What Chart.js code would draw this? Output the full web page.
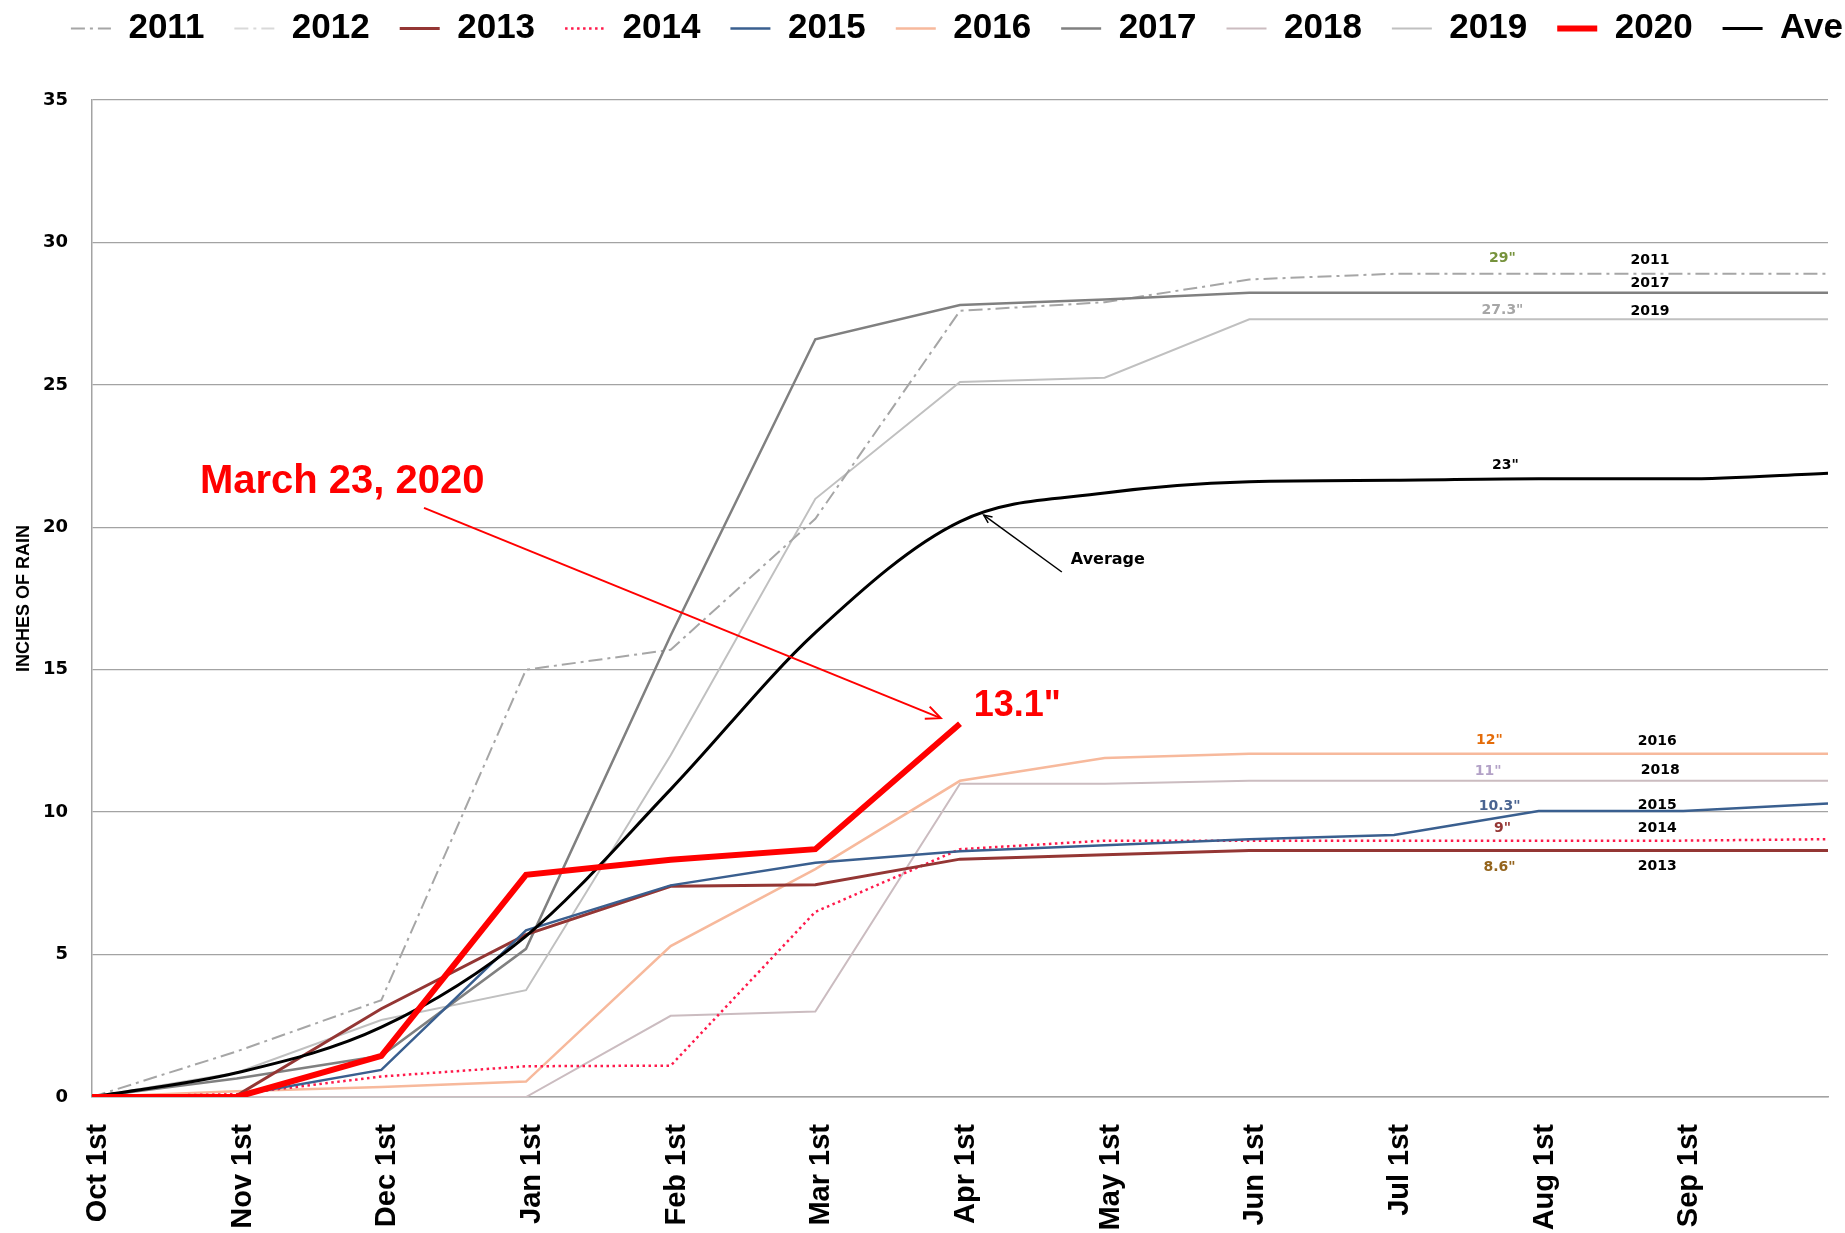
<!DOCTYPE html>
<html>
<head>
<meta charset="utf-8">
<script src="https://cdn.jsdelivr.net/npm/chart.js@4.4.1/dist/chart.umd.min.js"></script>
<style>
html,body{margin:0;padding:0;background:#ffffff;}
#wrap{width:1845px;height:1233px;position:relative;}
</style>
</head>
<body>
<div id="wrap"><canvas id="c"></canvas></div>
<script>
// ---- data ----
const months = ['Oct 1st','Nov 1st','Dec 1st','Jan 1st','Feb 1st','Mar 1st','Apr 1st','May 1st','Jun 1st','Jul 1st','Aug 1st','Sep 1st',''];
const yTicks = [0,5,10,15,20,25,30,35];
const y2011 = [0,1.6,3.4,15.0,15.7,20.3,27.6,27.9,28.7,28.9,28.9,28.9,28.9];
const y2012 = [null,null,null,null,null,null,null,null,null,null,null,null,null];
const y2013 = [0,0.05,3.1,5.7,7.4,7.45,8.35,8.5,8.65,8.65,8.65,8.65,8.65];
const y2014 = [0,0.1,0.72,1.08,1.1,6.5,8.7,9.0,9.0,9.0,9.0,9.0,9.05];
const y2015 = [0,0.05,0.95,5.85,7.43,8.22,8.63,8.84,9.05,9.2,10.04,10.04,10.3];
const y2016 = [0,0.2,0.35,0.54,5.3,8.0,11.1,11.9,12.05,12.05,12.05,12.05,12.05];
const y2017 = [0,0.65,1.45,5.2,16.2,26.6,27.8,28.0,28.23,28.23,28.23,28.23,28.23];
const y2018 = [0,0,0,0,2.85,3.0,11.0,11.0,11.1,11.1,11.1,11.1,11.1];
const y2019 = [0,0.85,2.7,3.75,12.0,21.0,25.1,25.25,27.3,27.3,27.3,27.3,27.3];
const y2020 = [0,0,1.44,7.8,8.33,8.7,13.1,null,null,null,null,null,null];
const yAve  = [0,0.85,2.45,5.65,10.8,16.3,20.2,21.2,21.6,21.65,21.7,21.7,21.9];
const seriesNames = ['2011','2012','2013','2014','2015','2016','2017','2018','2019','2020','Ave'];

// ---- annotations (positions in data coordinates) ----
const endValueLabels = ['29"','27.3"','23"','12"','11"','10.3"','9"','8.6"'];
const endValueX = [9.75,9.75,9.77,9.66,9.65,9.73,9.75,9.73];
const endValueY = [29.45,27.63,22.19,12.53,11.44,10.22,9.44,8.07];
const endValueColors = ['#76923c','#a6a6a6','#000000','#e46c0a','#b3a2c7','#4a6491','#953735','#94641c'];
const endYearLabels = ['2011','2017','2019','2016','2018','2015','2014','2013'];
const endYearX = [10.77,10.77,10.77,10.82,10.84,10.82,10.82,10.82];
const endYearY = [29.38,28.58,27.59,12.50,11.48,10.25,9.44,8.11];

// ---- styles ----
const styles = {
  '2011': {color:'#a6a6a6', width:2, dash:[14,5,3,5], order:5},
  '2012': {color:'#d9d9d9', width:2, dash:[14,5,3,5], order:5},
  '2013': {color:'#943634', width:3, dash:[], order:4},
  '2014': {color:'#ff1a4b', width:2.5, dash:[2.5,3.5], order:4},
  '2015': {color:'#3a5f8f', width:2.5, dash:[], order:3},
  '2016': {color:'#f7b99c', width:2.5, dash:[], order:5},
  '2017': {color:'#808080', width:2.5, dash:[], order:4},
  '2018': {color:'#cbbcc0', width:2, dash:[], order:5},
  '2019': {color:'#c0c0c0', width:2, dash:[], order:5},
  '2020': {color:'#ff0000', width:6, dash:[], order:0},
  'Ave':  {color:'#000000', width:3, dash:[], order:1}
};
const seriesData = [y2011,y2012,y2013,y2014,y2015,y2016,y2017,y2018,y2019,y2020,yAve];

const datasets = seriesNames.map((n,i)=>({
  label:n,
  data:seriesData[i],
  borderColor:styles[n].color,
  backgroundColor:styles[n].color,
  borderWidth:styles[n].width,
  borderDash:styles[n].dash,
  order:styles[n].order,
  pointRadius:0,
  pointHoverRadius:0,
  fill:false,
  spanGaps:false,
  cubicInterpolationMode: n==='Ave' ? 'monotone' : 'default',
  tension: n==='Ave' ? 0.4 : 0
}));

function drawArrow(ctx,x1,y1,x2,y2,color,w,head){
  ctx.save();
  ctx.strokeStyle=color; ctx.lineWidth=w; ctx.setLineDash([]);
  ctx.beginPath(); ctx.moveTo(x1,y1); ctx.lineTo(x2,y2); ctx.stroke();
  const a=Math.atan2(y2-y1,x2-x1);
  ctx.beginPath();
  ctx.moveTo(x2-head*Math.cos(a-0.42), y2-head*Math.sin(a-0.42));
  ctx.lineTo(x2,y2);
  ctx.lineTo(x2-head*Math.cos(a+0.42), y2-head*Math.sin(a+0.42));
  ctx.stroke();
  ctx.restore();
}

const annotPlugin = {
  id:'annot',
  afterDatasetsDraw(chart){
    const ctx=chart.ctx, xs=chart.scales.x, ys=chart.scales.y;
    const px=v=>xs.getPixelForValue(v), py=v=>ys.getPixelForValue(v);
    ctx.save();
    drawArrow(ctx,px(2.295),py(20.68),px(5.867),py(13.30),'#ff0000',2,16);
    drawArrow(ctx,px(6.704),py(18.43),px(6.164),py(20.43),'#000000',1.5,9);
    ctx.textBaseline='middle';
    ctx.textAlign='left';
    ctx.fillStyle='#ff0000';
    ctx.font='bold 40px "Liberation Sans", Arial, sans-serif';
    ctx.fillText('March 23, 2020',px(0.746),py(21.59));
    ctx.font='bold 36px "Liberation Sans", Arial, sans-serif';
    ctx.fillText('13.1"',px(6.095),py(13.73));
    ctx.fillStyle='#000000';
    ctx.font='bold 16px "DejaVu Sans", sans-serif';
    ctx.fillText('Average',px(6.766),py(18.85));
    ctx.textAlign='center';
    ctx.font='bold 14px "DejaVu Sans", sans-serif';
    endValueLabels.forEach((t,i)=>{
      ctx.fillStyle=endValueColors[i];
      ctx.fillText(t,px(endValueX[i]),py(endValueY[i]));
    });
    ctx.fillStyle='#000000';
    endYearLabels.forEach((t,i)=>{
      ctx.fillText(t,px(endYearX[i]),py(endYearY[i]));
    });
    ctx.restore();
  }
};

const gridColor='#a3a3a3';

new Chart(document.getElementById('c'),{
  type:'line',
  data:{labels:months, datasets},
  options:{
    responsive:true,
    maintainAspectRatio:false,
    animation:false,
    layout:{padding:{top:-19,right:-28,left:0,bottom:0}},
    plugins:{
      tooltip:{enabled:false},
      title:{display:true,text:'',weight:500,font:{size:10},padding:{top:32,bottom:0}},
      legend:{
        position:'top',
        align:'end',
        labels:{
          usePointStyle:true,
          pointStyle:'line',
          pointStyleWidth:40,
          padding:30,
          color:'#000000',
          font:{family:'"Liberation Sans", Arial, sans-serif',weight:'bold',size:35},
          sort:(a,b)=>a.datasetIndex-b.datasetIndex,
          generateLabels(chart){
            const items = Chart.defaults.plugins.legend.labels.generateLabels(chart);
            items.forEach(it=>{
              const ds = chart.data.datasets[it.datasetIndex];
              it.lineDash = ds.borderDash;
              it.lineWidth = ds.borderWidth;
              it.strokeStyle = ds.borderColor;
            });
            return items;
          }
        }
      }
    },
    scales:{
      x:{
        type:'category',
        offset:false,
        grid:{display:false,drawTicks:false},
        border:{display:true,color:gridColor,width:1.5},
        ticks:{
          autoSkip:false,
          minRotation:90,
          maxRotation:90,
          padding:27,
          labelOffset:6,
          color:'#000000',
          font:{family:'"Liberation Sans", Arial, sans-serif',weight:'bold',size:29}
        },
        afterFit(s){ s.height=136; s.paddingLeft=0; s.paddingRight=17; }
      },
      y:{
        min:0,max:35,
        afterBuildTicks(s){ s.ticks = yTicks.map(v=>({value:v})); },
        grid:{color:gridColor,lineWidth:1.3,drawTicks:false},
        border:{display:true,color:gridColor,width:1.5},
        ticks:{
          padding:24,
          color:'#000000',
          font:{family:'"DejaVu Sans", sans-serif',weight:'bold',size:18}
        },
        title:{
          display:true,
          text:'INCHES OF RAIN',
          color:'#000000',
          padding:{top:13,bottom:0},
          font:{family:'"Liberation Sans", Arial, sans-serif',weight:'bold',size:18}
        },
        afterFit(s){ s.width=92; }
      }
    }
  },
  plugins:[annotPlugin]
});
</script>
</body>
</html>
